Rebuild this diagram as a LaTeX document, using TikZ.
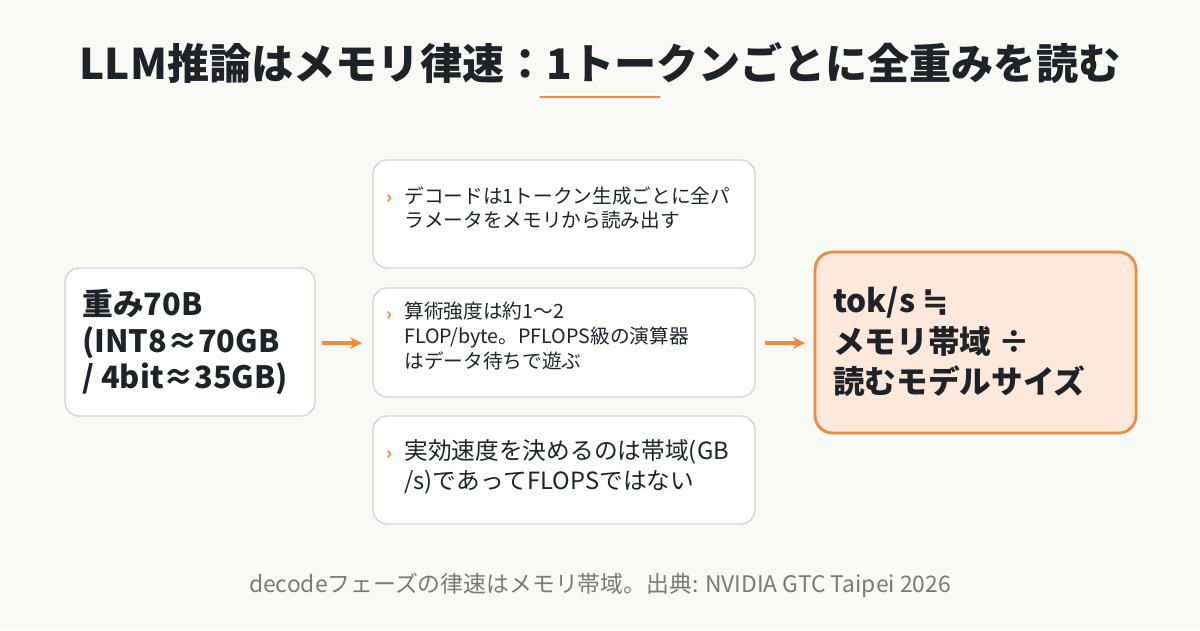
\documentclass[tikz,border=0pt]{standalone}
\usepackage{fontspec}
\setmainfont{Noto Sans CJK JP}
\newfontfamily\symb{DejaVu Sans}
\XeTeXlinebreaklocale "ja"
\XeTeXlinebreakskip=0pt plus 1pt
\usetikzlibrary{positioning}
\definecolor{bg}{HTML}{F9F9F6}
\definecolor{ink}{HTML}{1F2328}
\definecolor{accent}{HTML}{F28A3C}
\definecolor{peach}{HTML}{FDE8DC}
\definecolor{edge}{HTML}{D4D4D4}
\definecolor{muted}{HTML}{7A7A7A}
\tikzset{
  card/.style={draw=edge, fill=white, rounded corners=8pt, line width=0.8pt},
  point/.style={anchor=north west, text width=7cm, align=left, font=\fontsize{11.2}{14}\selectfont, text=ink, inner sep=0pt},
  tick/.style={anchor=north west, text=accent, font=\bfseries\fontsize{10}{13.5}\selectfont, inner sep=0pt},
  flow/.style={->, >=stealth, accent, line width=2pt}
}
\begin{document}
\begin{tikzpicture}[x=0.02cm, y=-0.02cm]
  \fill[bg] (0,0) rectangle (1200,630);
  \node[text=ink, font=\bfseries\fontsize{24}{28}\selectfont] (title) at (600,63) {LLM推論はメモリ律速：1トークンごとに全重みを読む};
  \draw[accent, line width=1.6pt] (540,97) -- (660,97);

  % left card
  \draw[card] (65,268) rectangle (315,416);
  \node[anchor=west, align=left, text=ink, font=\bfseries\fontsize{17.5}{21}\selectfont, inner sep=0pt] (weights) at (82,342)
    {重み70B\\(INT8≈70GB\\/ 4bit≈35GB)};
  \coordinate (w) at (322,343);

  % middle cards
  \draw[card] (373,160) rectangle (755,268);
  \draw[card] (373,288) rectangle (755,397);
  \draw[card] (373,416) rectangle (755,524);
  \node[tick] (t1) at (386,194) {›};
  \node[point] (p1) at (404,186) {デコードは1トークン生成ごとに全パ\\ラメータをメモリから読み出す};
  \node[tick] (t2) at (386,311) {›};
  \node[point] (p2) at (404,302) {算術強度は約1〜2\\FLOP/byte。PFLOPS級の演算器\\はデータ待ちで遊ぶ};
  \node[tick] (t3) at (386,450) {›};
  \node[point, font=\fontsize{13.5}{17}\selectfont] (p3) at (404,439) {実効速度を決めるのは帯域(GB\\/s)であってFLOPSではない};

  % right card
  \draw[accent, fill=peach, rounded corners=10pt, line width=1.6pt] (815,252) rectangle (1136,433);
  \node[anchor=west, align=left, text=ink, font=\bfseries\fontsize{18}{23}\selectfont, inner sep=0pt] (rate) at (833,342)
    {tok/s {\symb ≒}\\メモリ帯域 ÷\\読むモデルサイズ};

  \coordinate (m1) at (362,343);
  \coordinate (m2) at (765,343);
  \coordinate (r) at (805,343);
  \draw[flow] (w) -- (m1);
  \draw[flow] (m2) -- (r);

  \node[text=muted, font=\fontsize{13}{15}\selectfont] (note) at (600,585)
    {decodeフェーズの律速はメモリ帯域。出典: NVIDIA GTC Taipei 2026};
\end{tikzpicture}
\end{document}
